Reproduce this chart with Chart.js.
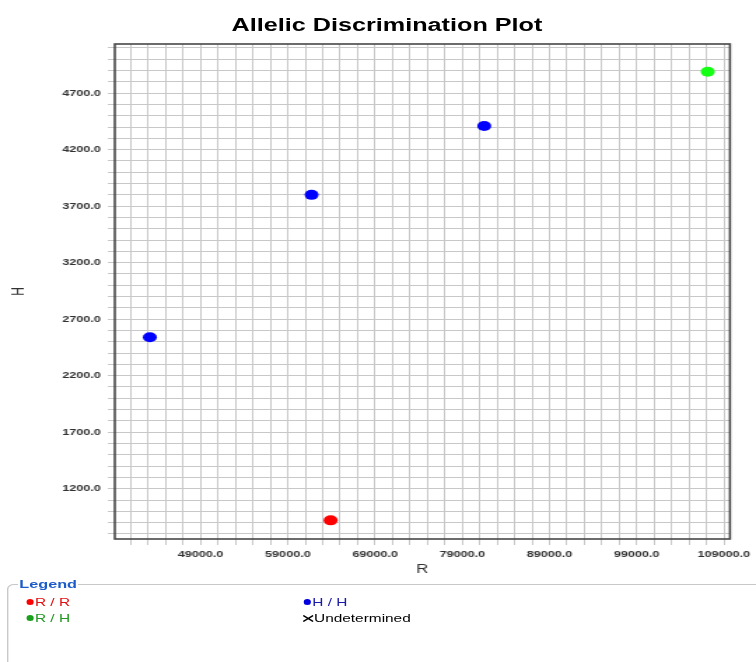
<!DOCTYPE html>
<html lang="en">
<head>
    <meta charset="UTF-8">
    <title>Allelic Discrimination Plot</title>
    <script src="https://cdn.jsdelivr.net/npm/chart.js"></script>
    <style>
      body { margin: 0; background: #fff; overflow: hidden; width: 756px; height: 662px; }
      /* the original screenshot is stretched sideways, so the whole page is drawn 540 wide and scaled */
      #wrap { position: relative; width: 540px; height: 662px; transform: scaleX(1.4); transform-origin: 0 0;
              font-family: Arial, "Liberation Sans", sans-serif; }
      #titulo { position: absolute; left: 0; top: 14.6px; width: 552.8px; text-align: center;
                font-weight: bold; font-size: 18px; line-height: 20px; color: #000; }
      canvas { position: absolute; left: 0; top: 0; }
      fieldset { position: absolute; left: 4.8px; top: 577px; width: 560px; height: 120px; margin: 0;
                 padding: 0 0 0 7px; border: 1px solid #c8c8c8; border-radius: 5px; }
      legend { padding: 0 1px; font-weight: bold; font-size: 11.6px; line-height: 14px; color: #1c5cc8; }
      .item { position: absolute; height: 14px; display: flex; align-items: center; font-size: 11px; white-space: nowrap; }
      .dot { width: 5.2px; height: 5.2px; border-radius: 50%; margin-right: 1.2px; }
    </style>
</head>
<body>
  <div id="wrap">
    <canvas id="grafico" width="540" height="580" style="width:540px;height:580px"></canvas>
    <div id="titulo">Allelic Discrimination Plot</div>
    <fieldset><legend>Legend</legend></fieldset>
    <div class="item" style="left:18.6px;top:595px;color:#e01010"><span class="dot" style="background:#ff0000"></span>R / R</div>
    <div class="item" style="left:18.6px;top:611px;color:#229922"><span class="dot" style="background:#1aa01a"></span>R / H</div>
    <div class="item" style="left:216.7px;top:595px;color:#1a1aaa"><span class="dot" style="background:#0000dd"></span>H / H</div>
    <div class="item" style="left:215.5px;top:611px;color:#000">
      <svg width="8.3" height="7" style="margin-right:0.5px"><path d="M0.6 0.6L7.7 6.4M7.7 0.6L0.6 6.4" stroke="#000" stroke-width="1.3"/></svg>Undetermined
    </div>
  </div>

  <script>
    // values (R on x, H on y)
    const rrR = [63900];
    const rrH = [920];
    const rhR = [107150];
    const rhH = [4890];
    const hhR = [43170, 61720, 81520];
    const hhH = [2540, 3800, 4410];
    const undR = [];
    const undH = [];

    // labelled ticks and grid steps
    const rTicks = [49000, 59000, 69000, 79000, 89000, 99000, 109000];
    const hTicks = [1200, 1700, 2200, 2700, 3200, 3700, 4200, 4700];
    const rStep = 2000;
    const hStep = 100;
    const rMin = 39150, rMax = 109700;
    const hMin = 755, hMax = 5135;

    function pontos(xs, ys) {
      return xs.map((x, i) => ({ x: x, y: ys[i] }));
    }

    // one tick per grid line, lined up with the labelled ones
    function gradeTicks(labels, step, min, max) {
      var v = labels[0];
      while (v - step >= min) v -= step;
      var t = [];
      for (; v <= max; v += step) t.push({ value: v });
      return t;
    }

    // dark box round the plot area
    const moldura = {
      id: 'moldura',
      beforeDatasetsDraw(chart) {
        const a = chart.chartArea;
        const ctx = chart.ctx;
        ctx.save();
        ctx.strokeStyle = '#484848';
        ctx.lineWidth = 1.6;
        ctx.strokeRect(a.left, a.top, a.right - a.left, a.bottom - a.top);
        ctx.restore();
      }
    };

    const fonte = 'Arial, "Liberation Sans", sans-serif';

    new Chart(document.getElementById('grafico'), {
      type: 'scatter',
      data: {
        datasets: [
          { label: 'R / R', data: pontos(rrR, rrH), backgroundColor: '#ff0000' },
          { label: 'R / H', data: pontos(rhR, rhH), backgroundColor: '#14ff14' },
          { label: 'H / H', data: pontos(hhR, hhH), backgroundColor: '#0000ff' },
          { label: 'Undetermined', data: pontos(undR, undH), backgroundColor: '#000000', pointStyle: 'cross' }
        ]
      },
      options: {
        responsive: false,
        animation: false,
        devicePixelRatio: 1,
        layout: { padding: { top: 44, right: 18.6, bottom: 0, left: 0 } },
        elements: { point: { radius: 5, borderWidth: 0, hoverRadius: 5 } },
        plugins: {
          legend: { display: false },
          tooltip: { enabled: false },
          title: { display: false }
        },
        scales: {
          x: {
            type: 'linear',
            min: rMin,
            max: rMax,
            bounds: 'data',
            afterBuildTicks: (s) => { s.ticks = gradeTicks(rTicks, rStep, rMin, rMax); },
            afterFit: (s) => { s.height = 41; },
            grid: { color: '#c8c8c8', lineWidth: 1, tickLength: 6, drawTicks: true },
            border: { display: false },
            ticks: {
              autoSkip: false, maxRotation: 0, minRotation: 0, padding: 4,
              color: '#333', font: { family: fonte, size: 9, weight: 'bold' },
              callback: (v) => rTicks.includes(v) ? v.toFixed(1) : ''
            },
            title: { display: true, text: 'R', color: '#333', font: { family: fonte, size: 12 }, padding: { top: 0, bottom: 3 } }
          },
          y: {
            type: 'linear',
            min: hMin,
            max: hMax,
            bounds: 'data',
            afterBuildTicks: (s) => { s.ticks = gradeTicks(hTicks, hStep, hMin, hMax); },
            afterFit: (s) => { s.width = 82; },
            grid: { color: '#c8c8c8', lineWidth: 1, tickLength: 5, drawTicks: true },
            border: { display: false },
            ticks: {
              autoSkip: false, padding: 5,
              color: '#333', font: { family: fonte, size: 9, weight: 'bold' },
              callback: (v) => hTicks.includes(v) ? v.toFixed(1) : ''
            },
            title: { display: true, text: 'H', color: '#333', font: { family: fonte, size: 12 }, padding: { top: 6, bottom: 0 } }
          }
        }
      },
      plugins: [moldura]
    });
  </script>
</body>
</html>
